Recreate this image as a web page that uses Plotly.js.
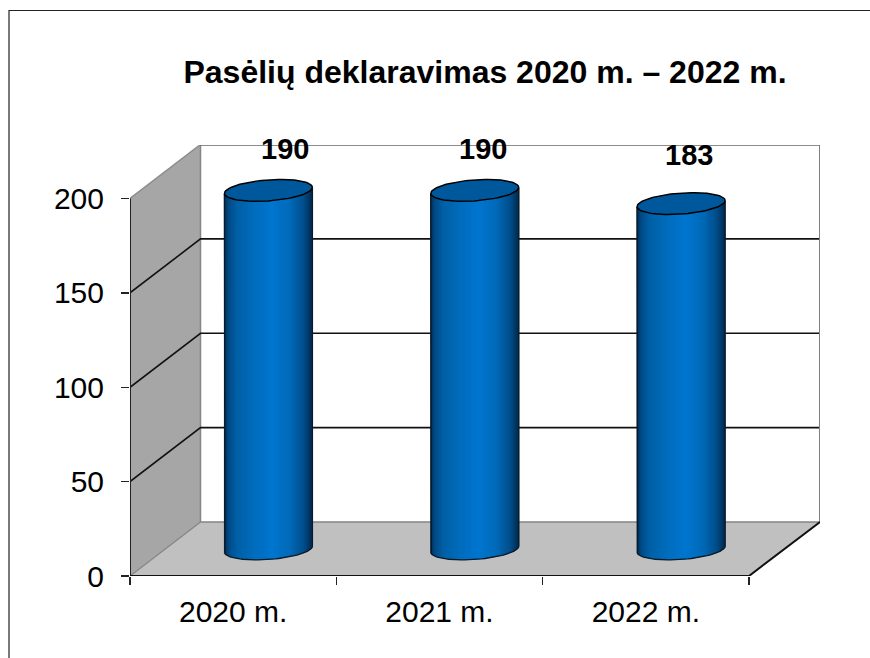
<!DOCTYPE html>
<html><head><meta charset="utf-8">
<script src="https://cdn.plot.ly/plotly-3.0.1.min.js"></script>
<style>html,body{margin:0;padding:0;background:#fff}#c{width:870px;height:658px}</style>
</head><body><div id="c"></div>
<script>
const categories = ["2020 m.", "2021 m.", "2022 m."];
const values = [190, 190, 183];
const yTicks = [0, 50, 100, 150, 200];
const gridValues = [50, 100, 150];
const chartTitle = "Pasėlių deklaravimas 2020 m. – 2022 m.";
const labelShiftPx = [17, 8, 8];
const labelLiftPx = [3, 3, 11];

const W = 870, H = 658;
const L = 130, R = 820, T = 145, B = 576;
const pxX = 206.33, pxY = 1.8875;
const x0 = -0.5, xN = 2.5, xTop = x0 + (R - L) / pxX, yTop = (B - T) / pxY;
const depthX = (200.5 - L) / pxX, depthY = (B - 522) / pxY;
const barHalf = 44 / pxX, capB = 10.5 / pxY, capK = 3 / pxY;
const stripes = 88;
const font = "Liberation Sans, Arial, sans-serif";

function hex(c){return [1,3,5].map(i=>parseInt(c.substr(i,2),16));}
const ramp = [[0,"#002a50"],[0.05,"#004a85"],[0.15,"#0060a6"],[0.35,"#006dbd"],[0.55,"#0076d0"],[0.75,"#006ab8"],[0.9,"#00508e"],[1,"#002c52"]];
function colorAt(t){
  for(let i=1;i<ramp.length;i++){
    if(t<=ramp[i][0]){
      const a=ramp[i-1],b=ramp[i],f=(t-a[0])/(b[0]-a[0]),ca=hex(a[1]),cb=hex(b[1]);
      return "rgb("+ca.map((v,j)=>Math.round(v+(cb[j]-v)*f)).join(",")+")";
    }
  }
  return ramp[ramp.length-1][1];
}
const midX = depthX / 2, midY = depthY / 2;
const traces = [];
// cylinder bodies drawn as thin bars
for(let s=0;s<stripes;s++){
  const u=-1+(2*s+1)/stripes, r=Math.sqrt(1-u*u);
  const lift=midY+capK*u;
  traces.push({type:"bar",
    x:values.map((_,i)=>i+midX+u*barHalf),
    y:values.map(v=>v+capB*r),
    base:values.map(()=>lift-capB*r),
    width:(2*barHalf/stripes)*2,
    marker:{color:colorAt((u+1)/2),line:{width:0}},
    hoverinfo:"skip",showlegend:false});
}
function ring(i,v,from,to,sign,n){
  const xs=[],ys=[];
  for(let k=0;k<=n;k++){
    const a=from+(to-from)*k/n, u=Math.cos(a), r=Math.sin(a);
    xs.push(i+midX+u*barHalf); ys.push(v+midY+capK*u+capB*r*sign);
  }
  return [xs,ys];
}
values.forEach((v,i)=>{
  const [bx,by]=ring(i,0,Math.PI,0,-1,40);
  traces.push({type:"scatter",mode:"lines",
    x:[i+midX-barHalf,...bx,i+midX+barHalf],
    y:[v+midY-capK,...by,v+midY+capK],
    line:{color:"#0a1a28",width:1.3},hoverinfo:"skip",showlegend:false});
  const [tx,ty]=ring(i,v,0,2*Math.PI,1,80);
  traces.push({type:"scatter",mode:"lines",x:tx,y:ty,fill:"toself",fillcolor:"#00589c",
    line:{color:"#000",width:1.5},hoverinfo:"skip",showlegend:false});
});
function edge(xs,ys,color,width){
  traces.push({type:"scatter",mode:"lines",x:xs,y:ys,cliponaxis:false,
    line:{color:color,width:width},hoverinfo:"skip",showlegend:false});
}
edge([x0+depthX,xTop],[200+depthY,200+depthY],"#1a1a1a",2);
edge([xTop,xTop],[200+depthY,depthY],"#808080",2);
edge([x0,x0+depthX],[200,200+depthY],"#8c8c8c",1.5);
edge([x0,x0],[0,200],"#222",2);
edge([x0,xN,xTop],[0,0,depthY],"#111",2);

const shapes = [
  {type:"path",layer:"below",path:`M ${x0} 0 L ${x0+depthX} ${depthY} L ${x0+depthX} ${200+depthY} L ${x0} 200 Z`,fillcolor:"#a6a6a6",line:{width:0}},
  {type:"path",layer:"below",path:`M ${x0} 0 L ${x0+depthX} ${depthY} L ${xTop} ${depthY} L ${xN} 0 Z`,fillcolor:"#c0c0c0",line:{width:0}},
  {type:"line",layer:"below",x0:x0,y0:0,x1:x0+depthX,y1:depthY,line:{color:"#858585",width:1.3}},
  {type:"line",layer:"below",x0:x0+depthX,y0:depthY,x1:xTop,y1:depthY,line:{color:"#858585",width:1.5}},
  {type:"line",layer:"below",x0:x0+depthX,y0:depthY,x1:x0+depthX,y1:200+depthY,line:{color:"#858585",width:1.5}},
  {type:"path",layer:"above",xref:"paper",yref:"paper",
   path:`M ${(9-L)/(R-L)} ${(B-H)/(B-T)} L ${(9-L)/(R-L)} ${(B-10.5)/(B-T)} L ${(W-L)/(R-L)} ${(B-10.5)/(B-T)}`,
   line:{color:"#222",width:1.2}}
];
gridValues.forEach(g=>{
  shapes.push({type:"path",layer:"below",path:`M ${x0} ${g} L ${x0+depthX} ${g+depthY} L ${xTop} ${g+depthY}`,
    line:{color:"#111",width:1.6}});
});

const annotations = values.map((v,i)=>({
  x:i+midX,y:v+midY,xref:"x",yref:"y",text:"<b>"+v+"</b>",showarrow:false,
  xshift:labelShiftPx[i],yshift:38+labelLiftPx[i],
  font:{family:font,size:29,color:"#000"}
}));

const layout = {
  width:W,height:H,showlegend:false,barmode:"overlay",
  paper_bgcolor:"#fff",plot_bgcolor:"#fff",
  margin:{l:L,r:W-R,t:T,b:H-B,pad:0},
  title:{text:"<b>"+chartTitle+"</b>",x:485/W,xanchor:"center",y:1-72/H,yanchor:"middle",
    font:{family:font,size:32,color:"#000"}},
  xaxis:{type:"linear",range:[x0,xTop],showgrid:false,zeroline:false,showline:false,
    tickmode:"array",tickvals:categories.map((_,i)=>i),ticktext:categories,ticks:"",
    ticklabelstandoff:15,
    tickfont:{family:font,size:30,color:"#000"},
    minor:{tickmode:"array",tickvals:[-0.5,0.5,1.5,2.5],ticks:"outside",ticklen:8,tickwidth:1.3,tickcolor:"#222",showgrid:false}},
  yaxis:{range:[0,yTop],showgrid:false,zeroline:false,showline:false,
    tickmode:"array",tickvals:yTicks,ticks:"outside",ticklen:8,tickwidth:1.3,tickcolor:"#222",
    ticklabelstandoff:11,ticklabelshift:-1.5,
    tickfont:{family:font,size:30,color:"#000"}},
  shapes:shapes,annotations:annotations
};
Plotly.newPlot("c",traces,layout,{displayModeBar:false,staticPlot:true});
</script></body></html>
